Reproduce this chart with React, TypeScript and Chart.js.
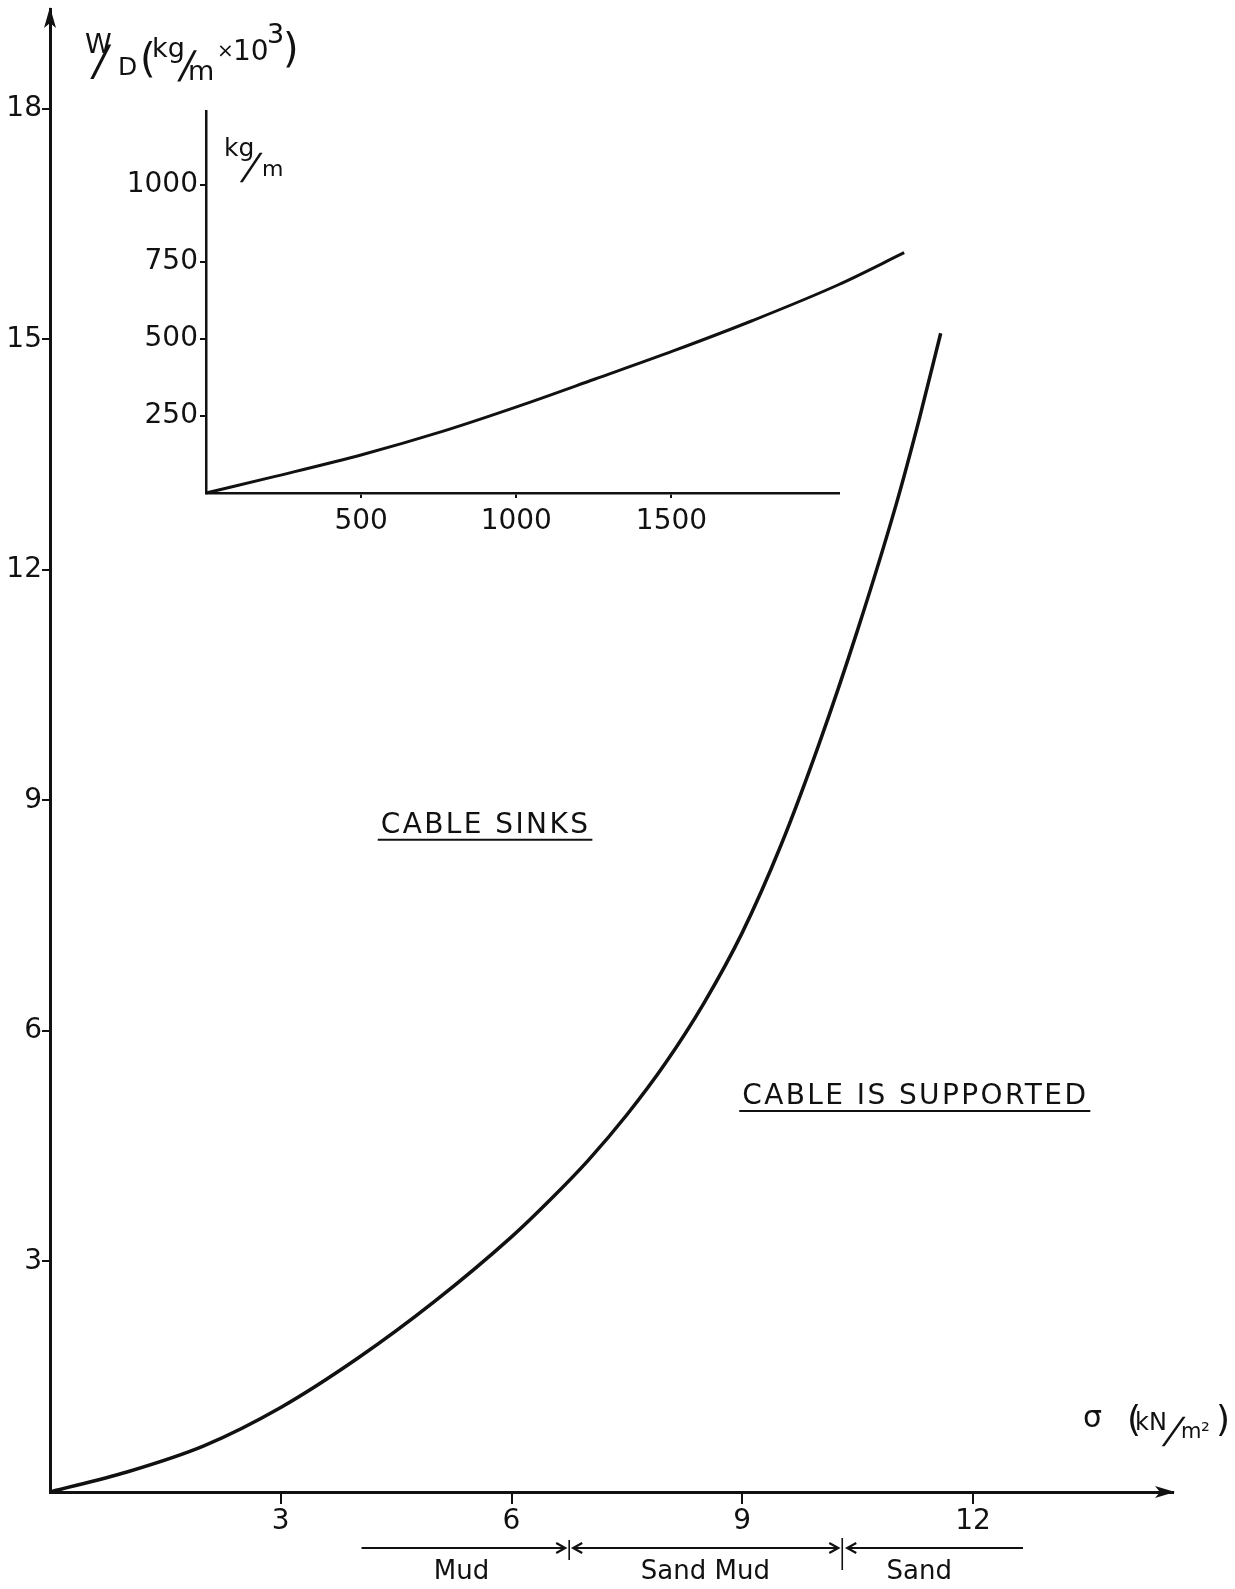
import React, { useEffect, useRef } from 'react';
import { Chart, registerables } from 'chart.js';

Chart.register(...registerables);

const FONT = '"DejaVu Sans", "Liberation Sans", sans-serif';
const INK = '#111';

// ---------- Main chart data: W/D (kg/m x 10^3) against sigma (kN/m^2) ----------
const sigmaValues = [0, 1, 2, 3, 4, 5, 6, 6.5, 7, 7.5, 8, 8.5, 9, 9.5, 10, 10.5, 11, 11.3, 11.58];
const wdValues = [0, 0.26, 0.6, 1.1, 1.74, 2.48, 3.32, 3.8, 4.32, 4.91, 5.58, 6.36, 7.28, 8.41, 9.74, 11.22, 12.85, 13.96, 15.08];
const mainXTicks = [3, 6, 9, 12];
const mainYTicks = [3, 6, 9, 12, 15, 18];

// ---------- Inset data: kg/m ----------
const insetX = [0, 223, 508, 762, 1008, 1254, 1508, 1762, 2038, 2250];
const insetY = [0, 54, 126, 200, 282, 370, 462, 560, 676, 780];
const insetXTicks = [500, 1000, 1500];
const insetYTicks = [250, 500, 750, 1000];

// ---------- Annotations ----------
const soilZones = ['Mud', 'Sand Mud', 'Sand'];
const zoneBounds = [4.05, 6.75, 10.3, 12.65];
const zoneLabelX = [5.35, 8.52, 11.3];
const regionLabels = ['CABLE SINKS', 'CABLE IS SUPPORTED'];
const regionLabelX = [4.3, 9.0];
const regionLabelY = [8.58, 5.05];

type Part = { t: string; x: number; y: number; s: number; k?: number };

const titleParts: Part[] = [
  { t: 'W', x: 0, y: -7, s: 27 },
  { t: '/', x: 6, y: 15, s: 42, k: 0.2 },
  { t: 'D', x: 33, y: 15, s: 25 },
  { t: '(', x: 55, y: 12, s: 40 },
  { t: 'kg', x: 67, y: -3, s: 27 },
  { t: '/', x: 93, y: 18, s: 38, k: 0.22 },
  { t: 'm', x: 103, y: 20, s: 27 },
  { t: '×', x: 132, y: -3, s: 20 },
  { t: '10', x: 148, y: 0, s: 28 },
  { t: '3', x: 182, y: -17, s: 27 },
  { t: ')', x: 198, y: 2, s: 40 },
];

const sigmaParts: Part[] = [
  { t: 'σ', x: 0, y: 0, s: 30 },
  { t: '(', x: 44, y: 4, s: 36 },
  { t: 'kN', x: 52, y: 3, s: 24 },
  { t: '/', x: 80, y: 16, s: 36, k: 0.4 },
  { t: 'm', x: 98, y: 11, s: 21 },
  { t: '²', x: 118, y: 11, s: 22 },
  { t: ')', x: 133, y: 4, s: 36 },
];

const kgParts: Part[] = [
  { t: 'kg', x: 0, y: 0, s: 25 },
  { t: '/', x: 17, y: 23, s: 36, k: 0.36 },
  { t: 'm', x: 38, y: 20, s: 22 },
];

function drawParts(ctx: CanvasRenderingContext2D, ox: number, oy: number, parts: Part[]) {
  ctx.textAlign = 'left';
  ctx.textBaseline = 'alphabetic';
  for (const p of parts) {
    ctx.font = `${p.s}px ${FONT}`;
    ctx.save();
    ctx.translate(ox + p.x, oy + p.y);
    if (p.k) ctx.transform(1, 0, -p.k, 1, 0, 0);
    ctx.fillText(p.t, 0, 0);
    ctx.restore();
  }
}

function chevron(ctx: CanvasRenderingContext2D, x: number, y: number, dir: number) {
  ctx.beginPath();
  ctx.moveTo(x - dir * 9, y - 5);
  ctx.lineTo(x, y);
  ctx.lineTo(x - dir * 9, y + 5);
  ctx.stroke();
}

const mainDecor = {
  id: 'mainDecor',
  afterDraw(chart: any) {
    const ctx: CanvasRenderingContext2D = chart.ctx;
    const xs = chart.scales.x;
    const ys = chart.scales.y;
    const ox = xs.left;
    const oy = ys.bottom;
    ctx.save();
    ctx.fillStyle = INK;
    ctx.strokeStyle = INK;

    // axis arrow heads
    ctx.beginPath();
    ctx.moveTo(xs.right + 2, oy);
    ctx.lineTo(xs.right - 18, oy - 6);
    ctx.lineTo(xs.right - 13, oy);
    ctx.lineTo(xs.right - 18, oy + 6);
    ctx.closePath();
    ctx.fill();
    ctx.beginPath();
    ctx.moveTo(ox, ys.top - 2);
    ctx.lineTo(ox - 6, ys.top + 19);
    ctx.lineTo(ox, ys.top + 14);
    ctx.lineTo(ox + 6, ys.top + 19);
    ctx.closePath();
    ctx.fill();

    // axis titles
    drawParts(ctx, ox + 35, ys.top + 51, titleParts);
    drawParts(ctx, xs.right - 90, oy - 65, sigmaParts);

    // region labels, underlined
    ctx.font = `28px ${FONT}`;
    ctx.textAlign = 'left';
    ctx.textBaseline = 'alphabetic';
    (ctx as any).letterSpacing = '2.4px';
    ctx.lineWidth = 2;
    regionLabels.forEach((label, i) => {
      const lx = xs.getPixelForValue(regionLabelX[i]);
      const ly = ys.getPixelForValue(regionLabelY[i]);
      ctx.fillText(label, lx, ly);
      const w = ctx.measureText(label).width;
      ctx.beginPath();
      ctx.moveTo(lx - 3, ly + 7);
      ctx.lineTo(lx + w + 2, ly + 7);
      ctx.stroke();
    });
    (ctx as any).letterSpacing = '0px';

    // soil zones below the sigma axis
    const ay = oy + 56;
    const px = zoneBounds.map((v) => xs.getPixelForValue(v));
    ctx.lineWidth = 2.2;
    ctx.beginPath();
    ctx.moveTo(px[0], ay);
    ctx.lineTo(px[1] - 4, ay);
    ctx.moveTo(px[1] + 4, ay);
    ctx.lineTo(px[2] - 4, ay);
    ctx.moveTo(px[2] + 5, ay);
    ctx.lineTo(px[3], ay);
    ctx.stroke();
    chevron(ctx, px[1] - 4, ay, 1);
    chevron(ctx, px[1] + 4, ay, -1);
    chevron(ctx, px[2] - 4, ay, 1);
    chevron(ctx, px[2] + 5, ay, -1);
    ctx.lineWidth = 1.6;
    ctx.beginPath();
    ctx.moveTo(px[1], ay - 8);
    ctx.lineTo(px[1], ay + 12);
    ctx.moveTo(px[2], ay - 10);
    ctx.lineTo(px[2], ay + 22);
    ctx.stroke();

    ctx.font = `26px ${FONT}`;
    ctx.textAlign = 'center';
    ctx.textBaseline = 'alphabetic';
    soilZones.forEach((z, i) => {
      ctx.fillText(z, xs.getPixelForValue(zoneLabelX[i]), oy + 87);
    });
    ctx.restore();
  },
};

const insetDecor = {
  id: 'insetDecor',
  afterDraw(chart: any) {
    const ctx: CanvasRenderingContext2D = chart.ctx;
    const a = chart.chartArea;
    ctx.save();
    ctx.fillStyle = INK;
    drawParts(ctx, a.left + 18, a.top + 45, kgParts);
    ctx.restore();
  },
};

export default function App() {
  const mainRef = useRef<HTMLCanvasElement>(null);
  const insetRef = useRef<HTMLCanvasElement>(null);

  useEffect(() => {
    const tickFont = { family: FONT, size: 28 };

    const main = new Chart(mainRef.current as HTMLCanvasElement, {
      type: 'line',
      data: {
        datasets: [
          {
            data: sigmaValues.map((x, i) => ({ x, y: wdValues[i] })),
            borderColor: INK,
            borderWidth: 3.5,
            pointRadius: 0,
            cubicInterpolationMode: 'monotone',
            fill: false,
          },
        ],
      },
      options: {
        responsive: false,
        animation: false,
        events: [],
        layout: { padding: { left: 0, top: 9, right: 62, bottom: 0 } },
        plugins: { legend: { display: false }, tooltip: { enabled: false } },
        scales: {
          x: {
            type: 'linear',
            min: 0,
            max: 14.6,
            position: 'bottom',
            border: { display: true, color: INK, width: 3 },
            grid: { display: true, drawOnChartArea: false, drawTicks: true, tickLength: 12, color: INK, lineWidth: 2 },
            ticks: { color: INK, font: tickFont, padding: 1, maxRotation: 0, autoSkip: false, callback: (v: any) => String(v) },
            afterBuildTicks: (s: any) => { s.ticks = mainXTicks.map((value) => ({ value })); },
            afterFit: (s: any) => { s.height = 97; s.paddingLeft = 0; s.paddingRight = 0; },
          },
          y: {
            type: 'linear',
            min: 0,
            max: 19.3,
            position: 'left',
            border: { display: true, color: INK, width: 3 },
            grid: { display: true, drawOnChartArea: false, drawTicks: true, tickLength: 8, color: INK, lineWidth: 2 },
            ticks: { color: INK, font: tickFont, padding: 0, autoSkip: false, callback: (v: any) => String(v) },
            afterBuildTicks: (s: any) => { s.ticks = mainYTicks.map((value) => ({ value })); },
            afterFit: (s: any) => { s.width = 50; s.paddingTop = 0; s.paddingBottom = 0; },
          },
        },
      },
      plugins: [mainDecor],
    } as any);

    const inset = new Chart(insetRef.current as HTMLCanvasElement, {
      type: 'line',
      data: {
        datasets: [
          {
            data: insetX.map((x, i) => ({ x, y: insetY[i] })),
            borderColor: INK,
            borderWidth: 3,
            pointRadius: 0,
            cubicInterpolationMode: 'monotone',
            fill: false,
            clip: false,
          },
        ],
      },
      options: {
        responsive: false,
        animation: false,
        events: [],
        layout: { padding: { left: 0, top: 31, right: 101, bottom: 0 } },
        plugins: { legend: { display: false }, tooltip: { enabled: false } },
        scales: {
          x: {
            type: 'linear',
            min: 0,
            max: 2040,
            position: 'bottom',
            border: { display: true, color: INK, width: 2.5 },
            grid: { display: true, drawOnChartArea: false, drawTicks: true, tickLength: 5, color: INK, lineWidth: 2 },
            ticks: { color: INK, font: tickFont, padding: 7, maxRotation: 0, autoSkip: false, callback: (v: any) => String(v) },
            afterBuildTicks: (s: any) => { s.ticks = insetXTicks.map((value) => ({ value })); },
            afterFit: (s: any) => { s.height = 67; s.paddingLeft = 0; s.paddingRight = 0; },
          },
          y: {
            type: 'linear',
            min: 0,
            max: 1240,
            position: 'left',
            border: { display: true, color: INK, width: 2.5 },
            grid: { display: true, drawOnChartArea: false, drawTicks: true, tickLength: 6, color: INK, lineWidth: 2 },
            ticks: { color: INK, font: tickFont, padding: 2, autoSkip: false, callback: (v: any) => String(v) },
            afterBuildTicks: (s: any) => { s.ticks = insetYTicks.map((value) => ({ value })); },
            afterFit: (s: any) => { s.width = 106; s.paddingTop = 0; s.paddingBottom = 0; },
          },
        },
      },
      plugins: [insetDecor],
    } as any);

    return () => {
      main.destroy();
      inset.destroy();
    };
  }, []);

  return (
    <div style={{ position: 'absolute', left: 0, top: 0, width: 1235, height: 1589, background: '#fff', overflow: 'hidden' }}>
      <canvas ref={mainRef} width={1235} height={1589} style={{ position: 'absolute', left: 0, top: 0 }} />
      <canvas ref={insetRef} width={840} height={480} style={{ position: 'absolute', left: 100, top: 80 }} />
    </div>
  );
}
